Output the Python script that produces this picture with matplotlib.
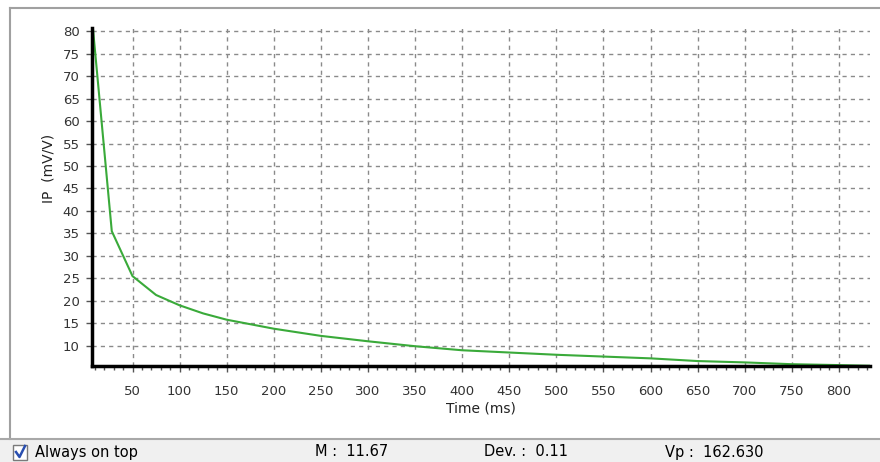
import matplotlib
matplotlib.use("Agg")
import matplotlib.pyplot as plt
from matplotlib.patches import Rectangle
from matplotlib.lines import Line2D

plt.rcParams['font.family'] = ['DejaVu Sans']

# IP decay curve
time_ms = [8, 28, 50, 75, 100, 125, 150, 175, 200, 250, 300, 350, 400,
           450, 500, 550, 600, 650, 700, 750, 800, 833]
ip_mvv = [80.6, 35.5, 25.5, 21.3, 19.0, 17.2, 15.8, 14.8, 13.8, 12.2, 11.0,
          9.9, 9.0, 8.5, 8.0, 7.6, 7.2, 6.6, 6.3, 5.9, 5.7, 5.55]

x_ticks = list(range(50, 801, 50))
y_ticks = list(range(10, 81, 5))

status_m = "M :  11.67"
status_dev = "Dev. :  0.11"
status_vp = "Vp :  162.630"

fig = plt.figure(figsize=(8.8, 4.62), dpi=100)
fig.patch.set_facecolor('white')

# window frame + status bar
fig.add_artist(Line2D([10/880, 10/880], [1 - 8/462, 1 - 439/462], color='#a0a0a0', lw=1.5))
fig.add_artist(Line2D([10/880, 1], [1 - 8/462, 1 - 8/462], color='#a0a0a0', lw=1.5))
fig.add_artist(Rectangle((0, 0), 1, 1 - 440/462, facecolor='#f0f0f0', edgecolor='none'))
fig.add_artist(Line2D([0, 1], [1 - 439/462, 1 - 439/462], color='#a8a8a8', lw=1.5))

ax = fig.add_axes([92/880, 1 - 366/462, (870 - 92)/880, (366 - 28)/462])
ax.plot(time_ms, ip_mvv, color='#3aaa3a', lw=1.5, zorder=3)

ax.set_xlim(7, 833)
ax.set_ylim(5.5, 80.7)
ax.set_xticks(x_ticks)
ax.set_yticks(y_ticks)
ax.set_xticks(range(10, 831, 10), minor=True)
ax.grid(True, which='major', color='#8a8a8a', ls=(0, (3, 3)), lw=1.0)

for s in ['top', 'right']:
    ax.spines[s].set_visible(False)
for s in ['left', 'bottom']:
    ax.spines[s].set_linewidth(2.5)
    ax.spines[s].set_color('black')
    ax.spines[s].set_zorder(4)

ax.tick_params(axis='y', which='major', length=4, width=1, color='#555555',
               labelsize=9.5, labelcolor='#333333', pad=5)
ax.tick_params(axis='x', which='major', length=4, width=1, color='#555555',
               labelsize=9.5, labelcolor='#333333', pad=10)
ax.tick_params(axis='x', which='minor', length=3, width=1, color='#555555')

ax.set_xlabel('Time (ms)', fontsize=10, color='#222222', labelpad=2)
ax.set_ylabel('IP  (mV/V)', fontsize=10, color='#222222')
ax.yaxis.set_label_coords(-0.047, 0.584)

# checkbox
fig.add_artist(Rectangle((13/880, 1 - 460/462), 14/880, 15/462, facecolor='white',
                         edgecolor='#7a7a7a', lw=1))
fig.add_artist(Line2D([16/880, 19.5/880, 25/880], [1 - 452/462, 1 - 457/462, 1 - 446/462],
                      color='#2a4fb0', lw=1.8))
fig.text(35/880, 1 - 453/462, 'Always on top', fontsize=10.5, va='center', color='black')
fig.text(315/880, 1 - 452/462, status_m, fontsize=10.5, va='center', color='black')
fig.text(484/880, 1 - 452/462, status_dev, fontsize=10.5, va='center', color='black')
fig.text(665/880, 1 - 452/462, status_vp, fontsize=10.5, va='center', color='black')

fig.savefig('out.png', dpi=100)
